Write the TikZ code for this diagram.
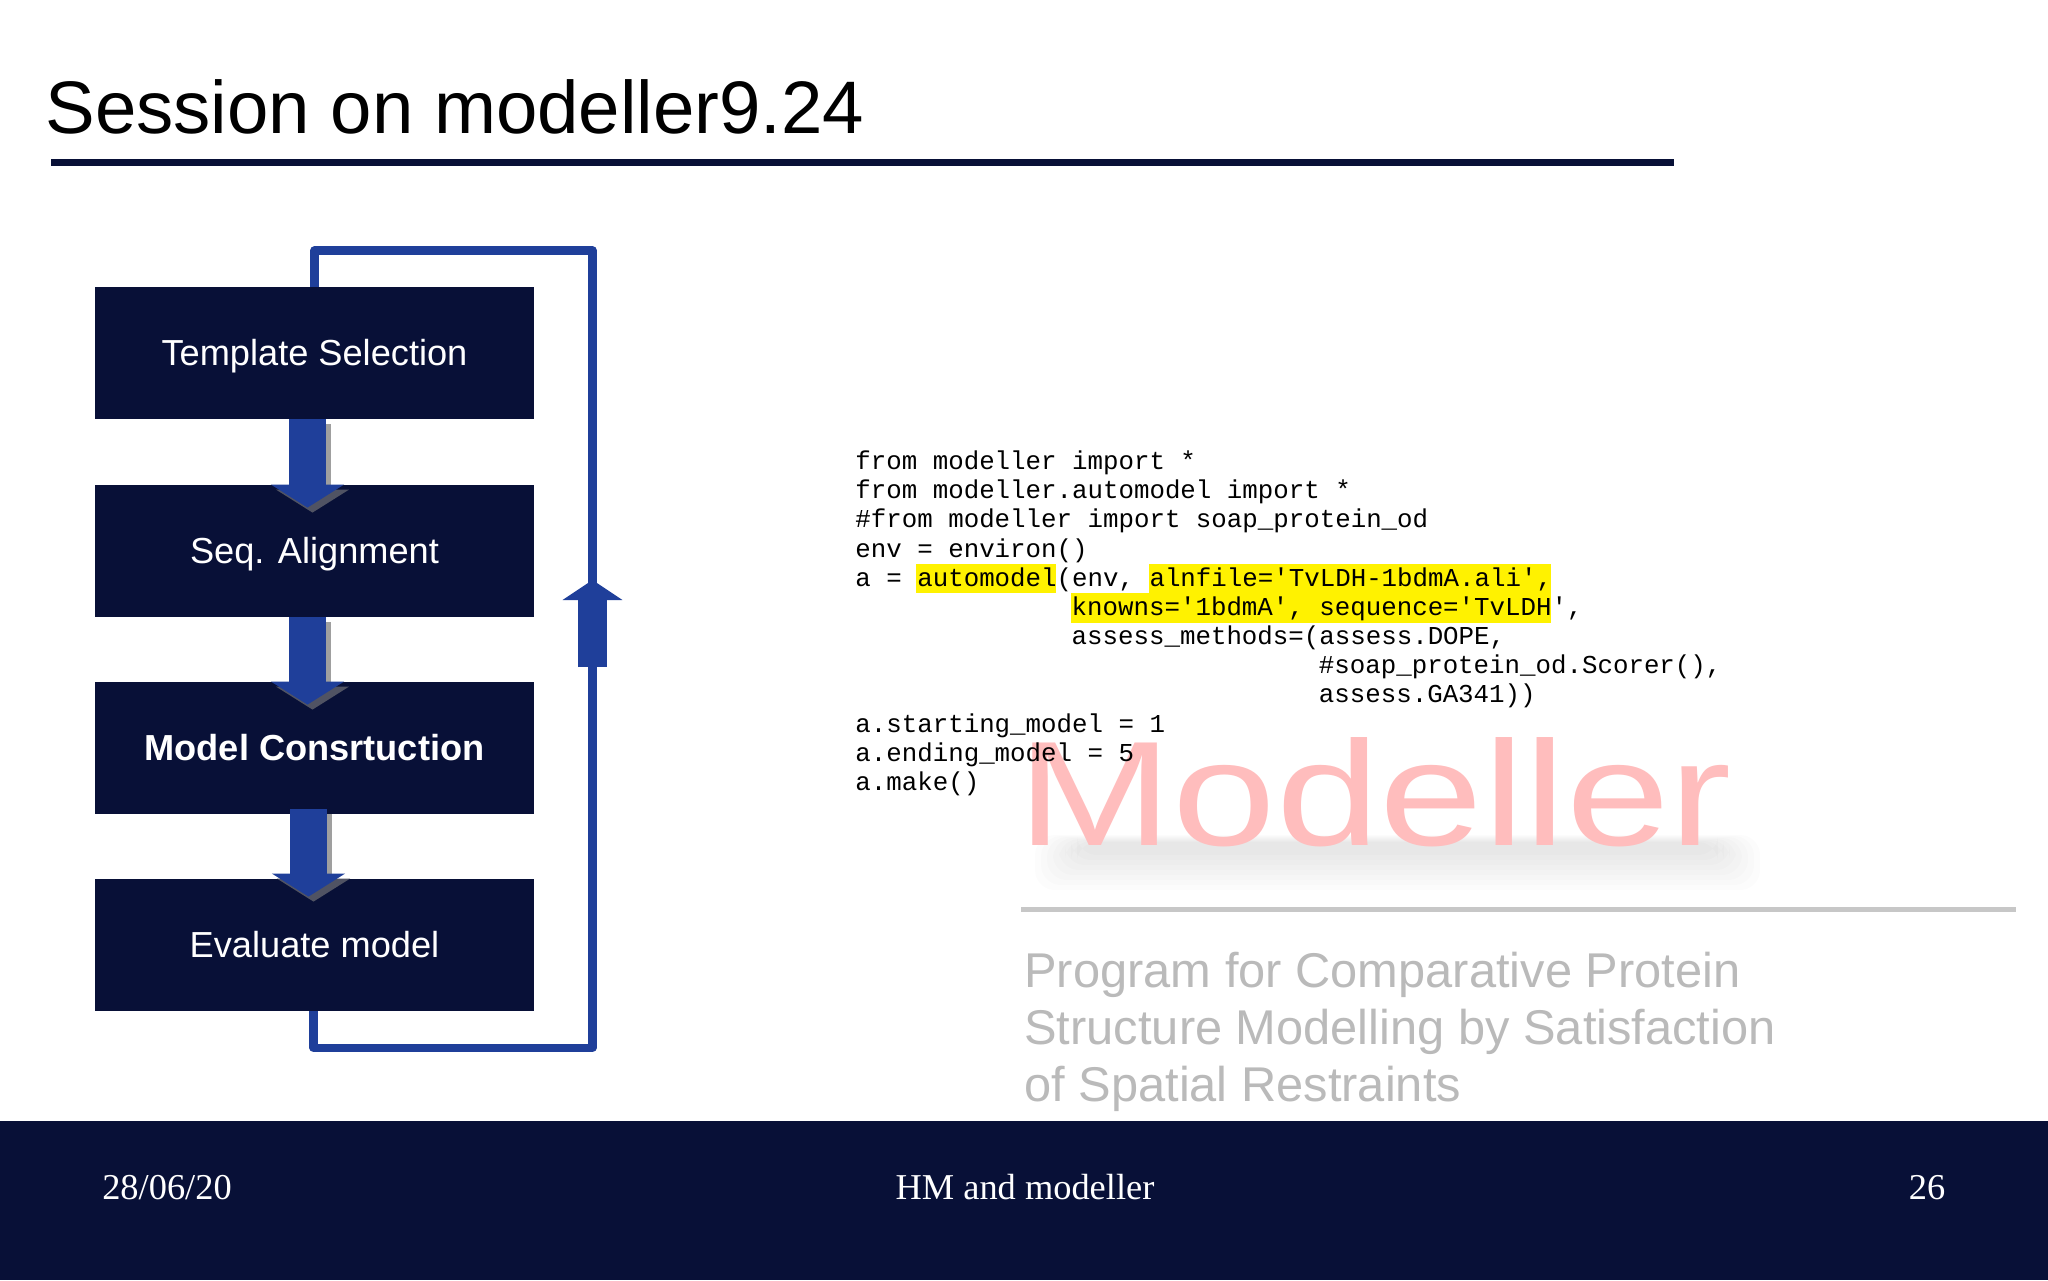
\documentclass[tikz,border=0pt]{standalone}
\usepackage{fontspec}
\setmainfont{Liberation Sans}
\setmonofont{Liberation Mono}
\newfontfamily\footfont{Liberation Serif}
\usetikzlibrary{arrows.meta}
\definecolor{navy}{HTML}{081037}
\definecolor{flowblue}{HTML}{1F3F9A}

\begin{document}
\begin{tikzpicture}[
    x=0.5pt,
    y=-0.5pt,
    stepbox/.style={rectangle, fill=navy, minimum width=219.5pt, minimum height=66pt, inner sep=0pt, text height=15.8pt, text depth=3pt, text=white, font=\fontsize{18.1}{20}\selectfont},
    flow/.style={line width=18.3pt, flowblue, -{Triangle[length=11.5pt, width=36pt]}, shorten >=-11.5pt},
    flowshadow/.style={line width=18.3pt, gray!75, -{Triangle[length=11.5pt, width=36pt, color=shadowtip]}, shorten >=-11.5pt},
    loopline/.style={line width=4.1pt, flowblue, line join=round},
    codeline/.style={anchor=base west, inner sep=0pt, font=\ttfamily\fontsize{12.9}{14.5}\selectfont},
    logotext/.style={anchor=base west, inner sep=0pt, text=black!27, font=\fontsize{24.4}{28}\selectfont},
    hilite/.style={fill=yellow},
    footlabel/.style={anchor=base, inner sep=0pt, text=white, font=\footfont\fontsize{18.2}{20}\selectfont}
]
    \colorlet{shadowtip}{gray!60!navy}
    \useasboundingbox (0,0) rectangle (2048,1280);
    \fill[white] (0,0) rectangle (2048,1280);

    % Title and footer band
    \node[anchor=base west, inner sep=0pt, font=\fontsize{37.2}{40}\selectfont] (title) at (45,133) {Session on modeller9.24};
    \fill[navy] (51,159) rectangle (1674,165.5);
    \fill[navy] (0,1121) rectangle (2048,1280);
    \node[footlabel] (date) at (167,1199) {28/06/20};
    \node[footlabel] (talk) at (1025,1199) {HM and modeller};
    \node[footlabel] (page) at (1927,1199) {26};

    % Logo behind the code
    \foreach \i in {0,...,7}
        \fill[black, opacity=0.012, rounded corners=10pt] (1035+\i*6,835+\i) rectangle (1760-\i*6,890-\i*5);
    \node[anchor=base west, inner sep=0pt, text=red!26!white, xscale=1.25, transform shape, font=\fontsize{74.5}{80}\selectfont] (logo) at (1017,845) {Modeller};
    \fill[black!22] (1021,906.5) rectangle (2016,911.5);
    \node[logotext] (prog1) at (1024,987) {Program for Comparative Protein};
    \node[logotext] (prog2) at (1024,1044) {Structure Modelling by Satisfaction};
    \node[logotext] (prog3) at (1024,1101) {of Spatial Restraints};

    % Flow boxes
    \node[stepbox] (tmpl) at (314.5,353) {Template Selection};
    \node[stepbox] (align) at (314.5,551) {Seq. Alignment};
    \node[stepbox, font=\fontsize{18.1}{20}\selectfont\bfseries] (build) at (314.5,748) {Model Consrtuction};
    \node[stepbox] (eval) at (314.5,945) {Evaluate model};

    % Arrows between the boxes, shadow first
    \draw[flowshadow] ([xshift=-1pt, yshift=-2.5pt]tmpl.south) -- ([xshift=-1pt, yshift=-2.5pt]align.north);
    \draw[flow] ([xshift=-3.5pt]tmpl.south) -- ([xshift=-3.5pt]align.north);
    \draw[flowshadow] ([xshift=-1pt, yshift=-2.5pt]align.south) -- ([xshift=-1pt, yshift=-2.5pt]build.north);
    \draw[flow] ([xshift=-3.5pt]align.south) -- ([xshift=-3.5pt]build.north);
    \draw[flowshadow] ([xshift=-0.5pt]build.south) -- ([xshift=-0.5pt]eval.north);
    \draw[flow] ([xshift=-3pt, yshift=2.5pt]build.south) -- ([xshift=-3pt, yshift=2.5pt]eval.north);

    % Feedback line
    \coordinate (fbbottom) at (592.5,1047.7);
    \coordinate (fbtop) at (592.5,250.5);
    \coordinate (fbtail) at (592.5,667);
    \coordinate (fbtip) at (592.5,580);
    \draw[loopline] ([xshift=-0.5pt]eval.south) |- (fbbottom) -- (fbtop) -| (tmpl.north);
    \draw[line width=14.5pt, flowblue, -{Triangle[length=10pt, width=29.5pt]}] (fbtail) -- (fbtip);

    % Highlighted parts of the code
    \fill[hilite] (916,564) rectangle (1056,593);
    \fill[hilite] (1149,564) rectangle (1551,593);
    \fill[hilite] (1071,593) rectangle (1551,623);

    % Code lines
    \node[codeline] (code1) at (855,469.5) {from modeller import *};
    \node[codeline] (code2) at (855,498.5) {from modeller.automodel import *};
    \node[codeline] (code3) at (855,527.5) {\#from modeller import soap\_protein\_od};
    \node[codeline] (code4) at (855,557) {env = environ()};
    \node[codeline] (code5) at (855,586.5) {a = automodel(env, alnfile='TvLDH-1bdmA.ali',};
    \node[codeline] (code6) at (1071.3,615.5) {knowns='1bdmA', sequence='TvLDH',};
    \node[codeline] (code7) at (1071.3,644.5) {assess\_methods=(assess.DOPE,};
    \node[codeline] (code8) at (1318.5,673.5) {\#soap\_protein\_od.Scorer(),};
    \node[codeline] (code9) at (1318.5,702.5) {assess.GA341))};
    \node[codeline] (code10) at (855,732) {a.starting\_model = 1};
    \node[codeline] (code11) at (855,761) {a.ending\_model = 5};
    \node[codeline] (code12) at (855,790.5) {a.make()};

\end{tikzpicture}
\end{document}
